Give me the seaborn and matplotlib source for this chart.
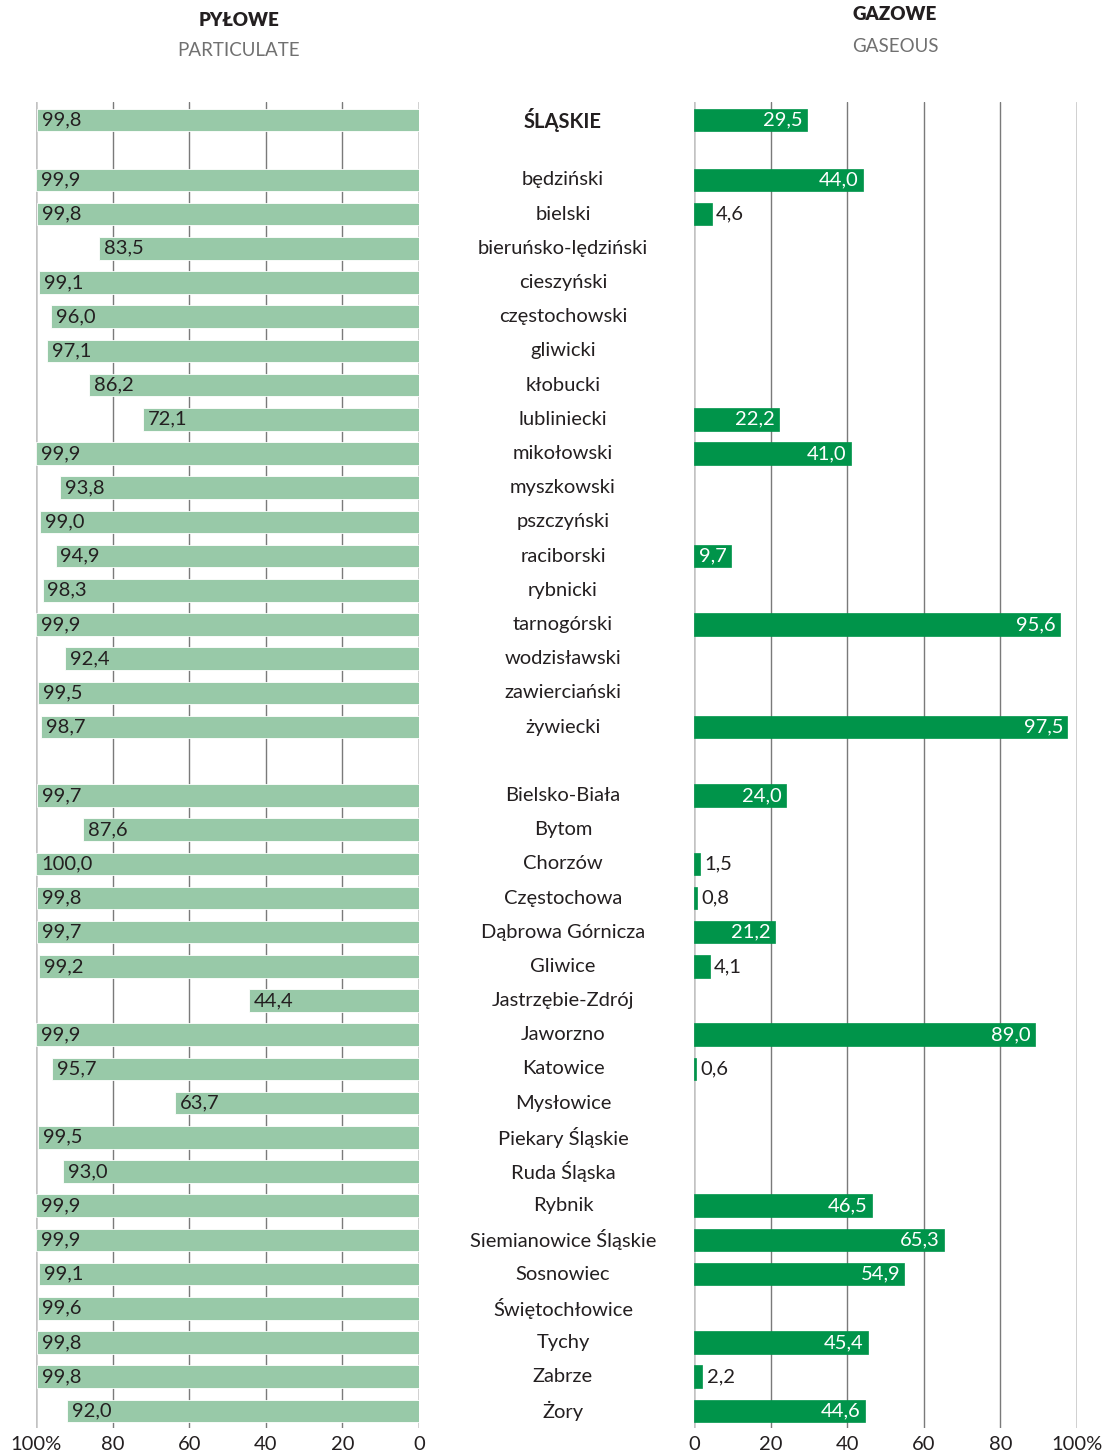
import numpy as np
import pandas as pd
import matplotlib
matplotlib.use("Agg")
import matplotlib.pyplot as plt
import matplotlib.transforms as mtransforms
import seaborn as sns

sns.set_theme(style="white")
plt.rcParams["font.family"] = ["Lato", "DejaVu Sans"]

# Row labels: voivodeship total, counties (powiaty) and cities with county rights
regions = [
    "ŚLĄSKIE",
    "będziński", "bielski", "bieruńsko-lędziński", "cieszyński", "częstochowski",
    "gliwicki", "kłobucki", "lubliniecki", "mikołowski", "myszkowski",
    "pszczyński", "raciborski", "rybnicki", "tarnogórski", "wodzisławski",
    "zawierciański", "żywiecki",
    "Bielsko-Biała", "Bytom", "Chorzów", "Częstochowa", "Dąbrowa Górnicza",
    "Gliwice", "Jastrzębie-Zdrój", "Jaworzno", "Katowice", "Mysłowice",
    "Piekary Śląskie", "Ruda Śląska", "Rybnik", "Siemianowice Śląskie",
    "Sosnowiec", "Świętochłowice", "Tychy", "Zabrze", "Żory",
]

# Share of pollutants captured (%) – particulate
particulate = [
    99.8,
    99.9, 99.8, 83.5, 99.1, 96.0, 97.1, 86.2, 72.1, 99.9, 93.8,
    99.0, 94.9, 98.3, 99.9, 92.4, 99.5, 98.7,
    99.7, 87.6, 100.0, 99.8, 99.7, 99.2, 44.4, 99.9, 95.7, 63.7,
    99.5, 93.0, 99.9, 99.9, 99.1, 99.6, 99.8, 99.8, 92.0,
]

# Share of pollutants captured (%) – gaseous (None = not reported)
gaseous = [
    29.5,
    44.0, 4.6, None, None, None, None, None, 22.2, 41.0, None,
    None, 9.7, None, 95.6, None, None, 97.5,
    24.0, None, 1.5, 0.8, 21.2, 4.1, None, 89.0, 0.6, None,
    None, None, 46.5, 65.3, 54.9, None, 45.4, 2.2, 44.6,
]

# Vertical slots: total, gap, counties, gap, cities
positions = [0.0] + [1.75 + i for i in range(17)] + [19.75 + i for i in range(19)]

df = pd.DataFrame({"region": regions, "pos": positions,
                   "particulate": particulate, "gaseous": gaseous})

LIGHT = "#98c9a8"
DARK = "#00944a"
TXT = "#231f20"
GRID_IN = "#7a7a7a"
GRID_OUT = "#c2c2c2"
FS = 14.5

fig = plt.figure(figsize=(11.11, 14.54), dpi=100)
ax_l = fig.add_axes([36 / 1111, 1 - 1428 / 1454, 383 / 1111, 1326 / 1454])
ax_r = fig.add_axes([694 / 1111, 1 - 1428 / 1454, 383 / 1111, 1326 / 1454])

YLIM = (38.25, -0.53)


def style_axis(ax, labels):
    ax.set_ylim(*YLIM)
    ax.set_xticks([0, 20, 40, 60, 80, 100])
    ax.set_xticklabels(labels, fontsize=FS, color=TXT)
    ax.tick_params(axis="x", length=0, pad=6)
    ax.set_yticks([])
    ax.set_xlabel("")
    ax.set_ylabel("")
    for s in ax.spines.values():
        s.set_visible(False)
    for v in (20, 40, 60, 80):
        ax.axvline(v, color=GRID_IN, lw=1.0, zorder=0)
    for v in (0, 100):
        ax.axvline(v, color=GRID_OUT, lw=1.8, zorder=0)
    ax.set_facecolor("none")


# Left panel: particulate, mirrored axis
sns.barplot(data=df, x="particulate", y="pos", orient="h", native_scale=True,
            color=LIGHT, saturation=1, width=0.66, errorbar=None,
            edgecolor="white", linewidth=0.6, ax=ax_l, zorder=2)
ax_l.set_xlim(100, 0)
style_axis(ax_l, ["0", "20", "40", "60", "80", "100%"])
for v, p in zip(df["particulate"], df["pos"]):
    ax_l.annotate(f"{v:.1f}".replace(".", ","), (v, p), xytext=(3.5, 0),
                  textcoords="offset points", ha="left", va="center",
                  fontsize=FS, color=TXT, zorder=3)

# Right panel: gaseous
dg = df.dropna(subset=["gaseous"])
sns.barplot(data=dg, x="gaseous", y="pos", orient="h", native_scale=True,
            color=DARK, saturation=1, width=0.66, errorbar=None,
            edgecolor=DARK, linewidth=0.5, ax=ax_r, zorder=2)
ax_r.set_xlim(0, 100)
style_axis(ax_r, ["0", "20", "40", "60", "80", "100%"])
for v, p in zip(dg["gaseous"], dg["pos"]):
    s = f"{v:.1f}".replace(".", ",")
    if v >= 8:
        ax_r.annotate(s, (v, p), xytext=(-3, 0), textcoords="offset points",
                      ha="right", va="center", fontsize=FS, color="white", zorder=3)
    else:
        ax_r.annotate(s, (v, p), xytext=(3, 0), textcoords="offset points",
                      ha="left", va="center", fontsize=FS, color=TXT, zorder=3)

# Region names in the middle column
trans = mtransforms.blended_transform_factory(fig.transFigure, ax_l.transData)
for name, p in zip(regions, positions):
    fig.text(563 / 1111, p, name, transform=trans, ha="center", va="center",
             fontsize=FS, color=TXT,
             fontweight="bold" if name == "ŚLĄSKIE" else "normal")

# Panel headings
fig.text(239 / 1111, 1 - 20 / 1454, "PYŁOWE", ha="center", va="center",
         fontsize=13.5, fontweight="heavy", color=TXT)
fig.text(239 / 1111, 1 - 50 / 1454, "PARTICULATE", ha="center", va="center",
         fontsize=13.5, color="#707070")
fig.text(895 / 1111, 1 - 15 / 1454, "GAZOWE", ha="center", va="center",
         fontsize=13.5, fontweight="heavy", color=TXT)
fig.text(895 / 1111, 1 - 46 / 1454, "GASEOUS", ha="center", va="center",
         fontsize=13.5, color="#707070")

fig.savefig("out.png", dpi=100, facecolor="white")
